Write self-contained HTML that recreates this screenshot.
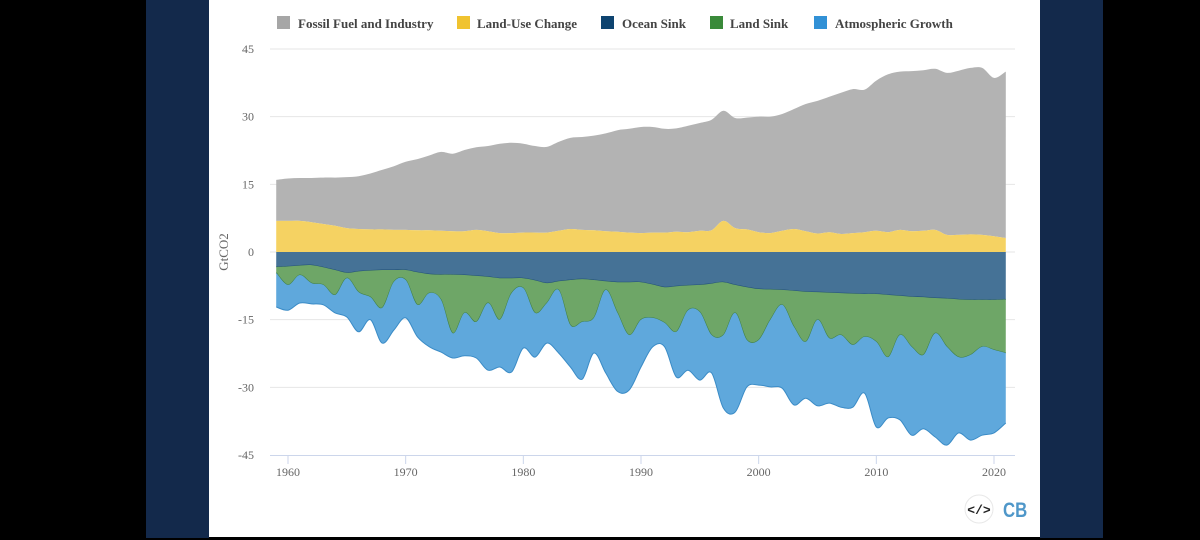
<!DOCTYPE html>
<html><head><meta charset="utf-8"><style>
html,body{margin:0;padding:0;background:#000;width:1200px;height:540px;overflow:hidden}
</style></head><body>
<svg id="chart" width="1200" height="540" viewBox="0 0 1200 540" xmlns="http://www.w3.org/2000/svg" font-family="Liberation Serif, serif">
<rect x="0" y="0" width="1200" height="540" fill="#000"/>
<rect x="146" y="0" width="63" height="538" fill="#13294b"/>
<rect x="1040" y="0" width="63" height="538" fill="#13294b"/>
<rect x="209" y="0" width="831" height="537" fill="#fff"/>
<g id="grid"></g>
<g id="areas"></g>
<g id="axes"></g>
<text x="228" y="252" transform="rotate(-90 228 252)" text-anchor="middle" font-size="13" fill="#666">GtCO2</text>
<g font-size="13" font-weight="bold" fill="#444">
 <g><rect x="277" y="16" width="13" height="13" fill="#a6a6a6"/><text x="298" y="28">Fossil Fuel and Industry</text></g>
 <g><rect x="457" y="16" width="13" height="13" fill="#f0c330"/><text x="477" y="28">Land-Use Change</text></g>
 <g><rect x="601" y="16" width="13" height="13" fill="#0e4470"/><text x="622" y="28">Ocean Sink</text></g>
 <g><rect x="710" y="16" width="13" height="13" fill="#3a8a3a"/><text x="730" y="28">Land Sink</text></g>
 <g><rect x="814" y="16" width="13" height="13" fill="#3291d6"/><text x="835" y="28">Atmospheric Growth</text></g>
</g>
<g><circle cx="979" cy="509" r="14" fill="#fff" stroke="#e8e8e8"/><text x="979" y="514" text-anchor="middle" font-family="Liberation Mono, monospace" font-weight="bold" font-size="13" fill="#222">&lt;/&gt;</text></g>
<text x="0" y="0" transform="translate(1003 517) scale(0.8 1)" font-family="Liberation Sans, sans-serif" font-weight="bold" font-size="21" fill="#4f97c9">CB</text>
</svg>
<script>
const years=[];for(let y=1959;y<=2021;y++)years.push(y);
const fossil=[9.1,9.4,9.5,9.8,10.3,10.7,11.3,11.7,12.4,13.2,14.1,15.1,15.8,16.6,17.5,17.2,18.0,18.3,18.9,19.8,20.0,19.7,19.2,19.0,19.7,20.2,20.6,21.0,21.7,22.5,23.0,23.5,23.4,23.0,22.9,23.6,23.9,24.5,24.4,24.4,24.8,25.6,25.8,25.9,26.6,28.2,29.4,30.0,31.3,31.9,31.6,33.3,35.0,35.1,35.5,35.6,35.7,35.9,36.4,36.9,37.0,35.1,36.9];
const landUse=[6.9,6.9,6.9,6.6,6.2,5.8,5.3,5.1,5.0,5.0,4.9,4.9,4.8,4.8,4.7,4.6,4.6,4.9,4.6,4.2,4.2,4.3,4.3,4.3,4.7,5.1,4.9,4.8,4.6,4.5,4.3,4.2,4.3,4.3,4.5,4.4,4.7,4.8,6.9,5.3,5.0,4.4,4.2,4.7,5.1,4.6,4.1,4.4,4.0,4.2,4.4,4.7,4.4,4.9,4.6,4.7,4.9,3.8,3.8,3.9,3.8,3.5,3.1];
const oceanSink=[3.3,3.2,3.0,2.9,3.4,4.0,4.6,4.3,4.1,4.0,4.0,4.0,4.5,4.9,5.0,5.0,5.1,5.3,5.5,5.8,5.8,5.8,6.3,6.9,6.5,6.2,6.0,6.2,6.5,6.7,6.7,6.7,7.2,7.8,7.6,7.4,7.3,7.0,6.7,7.3,7.8,8.2,8.3,8.4,8.6,8.8,8.9,9.0,9.1,9.2,9.3,9.3,9.5,9.7,9.9,10.0,10.2,10.3,10.5,10.6,10.6,10.6,10.5];
const landSink=[1.3,4.1,2.1,4.0,3.9,5.5,1.2,4.6,5.9,8.4,2.6,2.2,7.2,4.2,5.6,13,8.4,10.2,5.8,9.2,3.3,2.2,7.2,4.4,1.9,10,9.5,8.4,1.9,6.8,11.7,8.3,7.4,7.9,10.1,5.5,6.0,11.4,11.7,6.2,11.7,11.3,6.7,3.3,8.0,11.1,6.1,10.1,9.3,11.4,9.5,10.6,13.8,8.7,11.1,12.8,7.8,10.7,12.8,12.2,10.4,11.1,11.9];
const atmGrowth=[7.6,5.6,6.2,4.6,4.4,4.0,8.6,8.8,5.0,7.8,10.7,8.4,7.1,11.9,11.6,5.5,9.5,8.0,14.9,10.5,17.5,13.3,9.8,8.9,14,9.3,12.7,7.8,18.4,17.4,12.2,10.5,6.4,5.3,10,13.3,15.1,8.4,16.2,22,10.4,10,14.9,18.5,17.3,12.5,19.1,14.4,16,13.8,12.5,18.9,13.5,18.8,19.6,16.4,23,21.8,16.8,18.9,19.6,18.4,15.5];
const yTicks=[45,30,15,0,-15,-30,-45];
const xTicks=[1960,1970,1980,1990,2000,2010,2020];

const NS='http://www.w3.org/2000/svg';
const X0=270,X1=1015,Y0=49,Y1=455;
const xS=y=>288+(y-1960)*(994-288)/60;
const yS=v=>252-v*(Y1-Y0)/90;
function mk(tag,attrs,parent){const e=document.createElementNS(NS,tag);for(const k in attrs)e.setAttribute(k,attrs[k]);parent.appendChild(e);return e;}
const grid=document.getElementById('grid'),areas=document.getElementById('areas'),axes=document.getElementById('axes');
yTicks.forEach(t=>{
 if(t!==-45){const l=mk('line',{x1:X0,x2:X1,y1:yS(t),y2:yS(t),stroke:'#e6e6e6','stroke-width':1},grid);
 
 }
 const tx=mk('text',{x:254,y:yS(t)+4,'text-anchor':'end','font-size':12,fill:'#666'},axes);tx.textContent=t;
 
 
});
const ax=mk('line',{x1:X0,x2:X1,y1:Y1+0.5,y2:Y1+0.5,stroke:'#ccd6eb','stroke-width':1},axes);


xTicks.forEach(t=>{
 const tk=mk('line',{x1:xS(t),x2:xS(t),y1:Y1,y2:Y1+9,stroke:'#ccd6eb'},axes);
 
 
 const tx=mk('text',{x:xS(t),y:Y1+21,'text-anchor':'middle','font-size':12,fill:'#666'},axes);tx.textContent=t;
 
 
});
function curve(pts){let d='';for(let i=0;i<pts.length;i++){const p=pts[i];if(i===0){d+=`M${p[0]},${p[1]}`;continue;}
 const p0=pts[i-2]||pts[i-1],p1=pts[i-1],p3=pts[i+1]||p;
 const c1=[p1[0]+(p[0]-p0[0])/6,p1[1]+(p[1]-p0[1])/6],c2=[p[0]-(p3[0]-p1[0])/6,p[1]-(p3[1]-p1[1])/6];
 d+=`C${c1[0].toFixed(1)},${c1[1].toFixed(1)} ${c2[0].toFixed(1)},${c2[1].toFixed(1)} ${p[0].toFixed(1)},${p[1].toFixed(1)}`;}return d;}
function band(lo,hi,fill,stroke,name){
 const top=years.map((y,i)=>[xS(y),yS(hi[i])]);
 const bot=years.map((y,i)=>[xS(y),yS(lo[i])]).reverse();
 const d=curve(top)+'L'+curve(bot).slice(1)+'Z';
 const p=mk('path',{d:d,fill:fill,stroke:'none'},areas);
 
 
 if(stroke){const s=mk('path',{d:curve(bot.slice().reverse()),fill:'none',stroke:stroke,'stroke-width':1},areas);
 
 }
}
const zero=years.map(()=>0);
const luTop=landUse.slice();
const ffTop=landUse.map((v,i)=>v+fossil[i]);
const ocB=oceanSink.map(v=>-v);
const lsB=ocB.map((v,i)=>v-landSink[i]);
const atB=lsB.map((v,i)=>v-atmGrowth[i]);
band(luTop,ffTop,'#b3b3b3',null,'area-fossil-fuel');
band(zero,luTop,'#f5d262',null,'area-land-use-change');
band(ocB,zero,'#457296','#1f4f75','area-ocean-sink');
band(lsB,ocB,'#6ea667','#3f7f45','area-land-sink');
band(atB,lsB,'#5fa8dc','#3a8bc6','area-atmospheric-growth');
</script>
</body></html>
